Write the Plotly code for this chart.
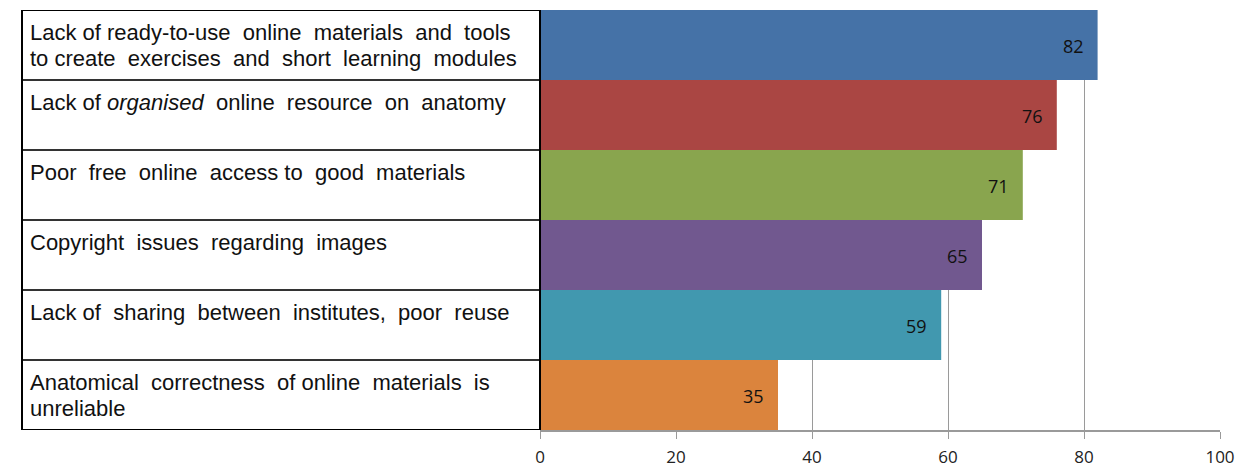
import plotly.graph_objects as go

categories = [
    ["Lack of ready-to-use  online  materials  and  tools",
     "to create  exercises  and  short  learning  modules"],
    ["Lack of <i>organised</i>  online  resource  on  anatomy"],
    ["Poor  free  online  access to  good  materials"],
    ["Copyright  issues  regarding  images"],
    ["Lack of  sharing  between  institutes,  poor  reuse"],
    ["Anatomical  correctness  of online  materials  is",
     "unreliable"],
]
values = [82, 76, 71, 65, 59, 35]
colors = ["#4572A7", "#AA4643", "#89A54E", "#71588F", "#4198AF", "#DB843D"]
x_ticks = [0, 20, 40, 60, 80, 100]

W, H = 1254, 471
L, R, T, B = 540, 34, 10, 41
pw = W - L - R

def px2paper(px):
    return (px - L) / pw

idx = list(range(len(categories)))

fig = go.Figure(go.Bar(
    x=values, y=idx, orientation="h",
    marker=dict(color=colors, line=dict(width=0)),
    width=1.0, hoverinfo="skip",
))

annotations = []
for i, v in enumerate(values):
    annotations.append(dict(
        x=v, y=i, xref="x", yref="y", text=str(v), showarrow=False,
        xanchor="right", yanchor="middle", xshift=-12, yshift=-1,
        font=dict(family="Open Sans", size=18, color="#111"),
    ))
    for k, line in enumerate(categories[i]):
        annotations.append(dict(
            x=px2paper(28), y=i - 0.5, xref="paper", yref="y",
            text=line.replace("  ", " \u00a0"), showarrow=False, align="left",
            xanchor="left", yanchor="top", yshift=-8 - 26 * k,
            font=dict(family="Liberation Sans", size=22, color="#111"),
        ))

shapes = []
xl = px2paper(22)
for k in range(len(categories) + 1):
    edge = k in (0, len(categories))
    shapes.append(dict(
        type="line", xref="paper", yref="y", x0=xl, x1=0, y0=k - 0.5, y1=k - 0.5,
        line=dict(color="#000" if edge else "#333", width=2),
    ))
shapes.append(dict(type="line", xref="paper", yref="y", x0=xl, x1=xl,
                   y0=-0.5, y1=len(categories) - 0.5, line=dict(color="#000", width=2)))
shapes.append(dict(type="line", xref="paper", yref="y", x0=0, x1=0,
                   y0=-0.5, y1=len(categories) - 0.5, line=dict(color="#000", width=2)))

fig.update_layout(
    width=W, height=H, margin=dict(l=L, r=R, t=T, b=B, autoexpand=False),
    paper_bgcolor="white", plot_bgcolor="white", showlegend=False,
    annotations=annotations, shapes=shapes,
    xaxis=dict(range=[0, 100], tickvals=x_ticks, showgrid=True, gridcolor="#9a9a9a",
               gridwidth=1, zeroline=False, showline=True, linecolor="#9a9a9a", linewidth=1.5,
               ticks="outside", ticklen=7, tickcolor="#9a9a9a", ticklabelstandoff=4,
               automargin=False,
               tickfont=dict(family="Open Sans", size=17, color="#222")),
    yaxis=dict(range=[len(categories) - 0.5, -0.5], showticklabels=False, showgrid=False,
               zeroline=False, showline=False, automargin=False),
)

fig.write_html("out.html", config={"displayModeBar": False},
               post_script="document.body.style.margin='0';document.body.style.padding='0';")
